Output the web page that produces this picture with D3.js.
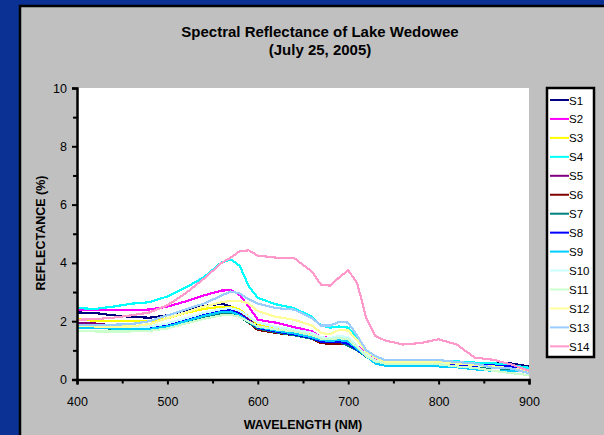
<!DOCTYPE html>
<html><head><meta charset="utf-8">
<script src="https://cdn.jsdelivr.net/npm/d3@7"></script>
<style>
html,body{margin:0;padding:0;background:#0a3193;}
svg{display:block;}
text{font-family:"Liberation Sans",Arial,sans-serif;}
</style></head>
<body>
<svg id="c" width="604" height="435"></svg>
<script>
const wavelengths = [400,420,440,460,480,500,520,540,560,570,580,590,600,620,640,660,670,680,690,700,710,720,730,740,760,780,800,820,840,860,880,900];
const S1  = [2.30,2.28,2.20,2.15,2.12,2.20,2.38,2.52,2.60,2.50,2.35,2.10,1.85,1.70,1.60,1.45,1.30,1.25,1.30,1.25,1.05,0.85,0.65,0.55,0.55,0.52,0.50,0.52,0.55,0.57,0.55,0.45];
const S2  = [2.40,2.38,2.38,2.38,2.40,2.50,2.68,2.88,3.05,3.07,2.90,2.50,2.05,1.95,1.80,1.65,1.45,1.43,1.45,1.40,1.15,0.90,0.70,0.55,0.55,0.55,0.52,0.50,0.50,0.48,0.42,0.30];
const S3  = [2.10,2.00,2.00,2.00,2.00,2.10,2.28,2.42,2.50,2.50,2.40,2.15,1.90,1.78,1.70,1.55,1.35,1.30,1.35,1.30,1.10,0.85,0.65,0.58,0.58,0.58,0.58,0.55,0.50,0.47,0.40,0.35];
const S4  = [2.45,2.42,2.50,2.60,2.65,2.85,3.15,3.50,4.02,4.12,3.90,3.20,2.80,2.58,2.45,2.15,1.85,1.78,1.82,1.78,1.40,1.00,0.80,0.65,0.65,0.62,0.62,0.62,0.58,0.56,0.50,0.40];
const S5  = [1.93,1.92,1.85,1.82,1.82,1.90,2.05,2.20,2.35,2.40,2.30,2.05,1.80,1.65,1.58,1.45,1.30,1.28,1.30,1.25,1.05,0.82,0.62,0.55,0.52,0.52,0.52,0.50,0.48,0.46,0.45,0.30];
const S6  = [1.85,1.83,1.80,1.78,1.80,1.88,2.02,2.18,2.32,2.35,2.20,1.95,1.70,1.60,1.52,1.40,1.25,1.22,1.22,1.20,1.00,0.78,0.60,0.52,0.50,0.50,0.50,0.48,0.45,0.43,0.40,0.28];
const S7  = [1.78,1.76,1.75,1.72,1.75,1.82,1.98,2.12,2.25,2.28,2.15,1.95,1.75,1.62,1.52,1.40,1.30,1.30,1.30,1.15,1.00,0.78,0.60,0.55,0.50,0.50,0.48,0.45,0.42,0.40,0.35,0.25];
const S8  = [1.82,1.80,1.77,1.77,1.78,1.85,2.05,2.22,2.38,2.38,2.25,2.00,1.78,1.65,1.55,1.42,1.30,1.28,1.30,1.22,1.02,0.80,0.60,0.52,0.50,0.50,0.50,0.50,0.48,0.48,0.45,0.32];
const S9  = [1.78,1.77,1.75,1.73,1.73,1.82,2.00,2.18,2.32,2.33,2.20,1.98,1.80,1.68,1.58,1.45,1.35,1.33,1.35,1.30,1.05,0.80,0.55,0.48,0.45,0.45,0.45,0.42,0.35,0.30,0.30,0.28];
const S10 = [1.85,1.85,1.82,1.80,1.82,1.92,2.10,2.28,2.42,2.45,2.35,2.15,1.95,1.80,1.72,1.60,1.45,1.42,1.50,1.45,1.15,0.85,0.65,0.60,0.58,0.58,0.58,0.55,0.50,0.42,0.38,0.25];
const S11 = [1.68,1.65,1.65,1.65,1.67,1.75,1.92,2.08,2.20,2.22,2.15,1.98,1.82,1.72,1.65,1.52,1.40,1.38,1.42,1.38,1.10,0.80,0.62,0.55,0.55,0.55,0.52,0.45,0.40,0.30,0.22,0.15];
const S12 = [1.85,1.82,1.82,1.82,1.90,2.10,2.30,2.50,2.65,2.70,2.70,2.60,2.35,2.15,2.05,1.85,1.60,1.55,1.70,1.68,1.35,0.95,0.75,0.62,0.60,0.60,0.60,0.55,0.50,0.45,0.38,0.30];
const S13 = [1.88,1.88,1.88,1.90,2.00,2.20,2.40,2.60,2.88,3.02,2.95,2.75,2.60,2.45,2.40,2.10,1.85,1.85,1.98,1.95,1.50,1.00,0.80,0.68,0.67,0.67,0.67,0.60,0.55,0.40,0.38,0.22];
const S14 = [2.05,2.07,2.12,2.20,2.30,2.55,2.95,3.45,4.00,4.18,4.40,4.43,4.25,4.18,4.17,3.70,3.25,3.22,3.50,3.75,3.30,2.10,1.50,1.35,1.20,1.25,1.38,1.20,0.75,0.68,0.52,0.30];

const seriesNames = ["S1","S2","S3","S4","S5","S6","S7","S8","S9","S10","S11","S12","S13","S14"];
const seriesValues = [S1,S2,S3,S4,S5,S6,S7,S8,S9,S10,S11,S12,S13,S14];
const seriesColors = ["#000080","#FF00FF","#FFFF00","#00FFFF","#800080","#800000","#008080","#0000FF","#00CCFF","#CCFFFF","#CCFFCC","#FFFF99","#99CCFF","#FF99CC"];
const xTicks = [400,500,600,700,800,900];
const xMinorTicks = [450,550,650,750,850];
const yTicks = [0,2,4,6,8,10];
const yMinorTicks = [1,3,5,7,9];
const titleLines = ["Spectral Reflectance of Lake Wedowee","(July 25, 2005)"];
const xTitle = "WAVELENGTH (NM)";
const yTitle = "REFLECTANCE (%)";

const svg = d3.select("#c");
svg.append("rect").attr("x",0).attr("y",0).attr("width",604).attr("height",435).attr("fill","#0a3193");
svg.append("rect").attr("x",20).attr("y",6).attr("width",600).attr("height",440)
  .attr("fill","#C0C0C0").attr("stroke","#000").attr("stroke-width",2.5);

const L = 77, R = 529, T = 88, B = 379.5;
const x = d3.scaleLinear().domain([400,900]).range([L,R]);
const y = d3.scaleLinear().domain([0,10]).range([B,T]);

svg.append("rect").attr("x",L).attr("y",T).attr("width",R-L).attr("height",B-T).attr("fill","#fff");

svg.selectAll("text.title").data(titleLines).join("text").attr("class","title")
  .attr("x",320).attr("y",(d,i)=>37+i*18).attr("text-anchor","middle")
  .attr("font-size","15px").attr("font-weight","bold").attr("fill","#000").text(d=>d);

const g = svg.append("g");
const line = d3.line().x((d,i)=>x(wavelengths[i])).y(d=>y(d));
seriesValues.forEach((vals,k)=>{
  g.append("path").datum(vals).attr("d",line).attr("fill","none")
    .attr("stroke",seriesColors[k]).attr("stroke-width",2.2).attr("shape-rendering","crispEdges");
});

const xAxis = svg.append("g").attr("transform",`translate(0,${B})`)
  .call(d3.axisBottom(x).tickValues(xTicks).tickSize(5).tickFormat(d3.format("d")));
svg.append("g").attr("transform",`translate(0,${B})`)
  .call(d3.axisBottom(x).tickValues(xMinorTicks).tickSize(4).tickFormat(""))
  .call(a=>a.select(".domain").remove());
const yAxis = svg.append("g").attr("transform",`translate(${L},0)`)
  .call(d3.axisLeft(y).tickValues(yTicks).tickSize(5));
svg.append("g").attr("transform",`translate(${L},0)`)
  .call(d3.axisLeft(y).tickValues(yMinorTicks).tickSize(4).tickFormat(""))
  .call(a=>a.select(".domain").remove());
svg.selectAll(".domain").attr("stroke","#000").attr("stroke-width",2.5);
svg.selectAll(".tick line").attr("stroke","#000").attr("stroke-width",2);
svg.selectAll(".tick text").attr("font-size","12.5px").attr("font-family","Liberation Sans, Arial, sans-serif").attr("fill","#000");
xAxis.selectAll(".tick text").attr("dy","0").attr("y",26);
yAxis.selectAll(".tick text").attr("x",-10);

svg.append("text").attr("x",303).attr("y",429).attr("text-anchor","middle")
  .attr("font-size","12.5px").attr("font-weight","bold").text(xTitle);
svg.append("text").attr("transform","translate(45,233) rotate(-90)").attr("text-anchor","middle")
  .attr("font-size","12.5px").attr("font-weight","bold").text(yTitle);

const lg = svg.append("g");
lg.append("rect").attr("x",547).attr("y",88).attr("width",47).attr("height",269)
  .attr("fill","#fff").attr("stroke","#000").attr("stroke-width",2.5);
const items = lg.selectAll("g.it").data(seriesNames).join("g").attr("class","it")
  .attr("transform",(d,i)=>`translate(0,${100+i*18.95})`);
items.append("line").attr("x1",550).attr("x2",569).attr("y1",0).attr("y2",0)
  .attr("stroke",(d,i)=>seriesColors[i]).attr("stroke-width",2);
items.append("text").attr("x",569).attr("y",4.5).attr("font-size","11.5px").attr("fill","#000").text(d=>d);
</script>
</body></html>
